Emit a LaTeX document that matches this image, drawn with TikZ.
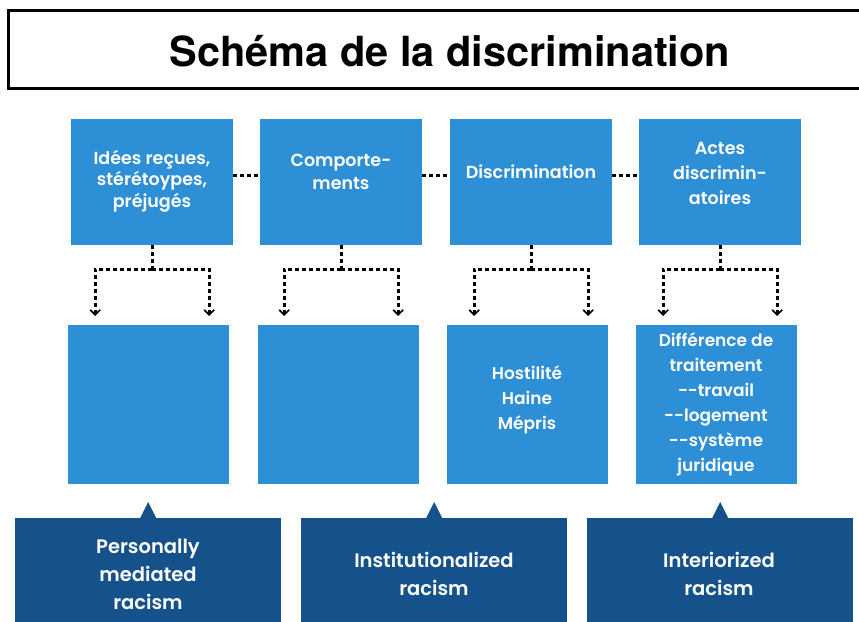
\documentclass[tikz,border=0pt]{standalone}
\usepackage{fontspec}
\usetikzlibrary{arrows.meta,positioning}
\newfontfamily\titlefont{TeX Gyre Heros}
\newfontfamily\boxfont{Poppins SemiBold}
\definecolor{boxblue}{RGB}{45,143,213}
\definecolor{darkblue}{RGB}{21,82,140}
\tikzset{
  topbox/.style={fill=boxblue, minimum width=162pt, minimum height=126pt, inner sep=0pt, anchor=north west},
  lowbox/.style={fill=boxblue, minimum width=161pt, minimum height=159pt, inner sep=0pt, anchor=north west},
  racebox/.style={fill=darkblue, minimum width=266pt, minimum height=130pt, inner sep=0pt, anchor=north west},
  boxtext/.style={text=white, align=center, inner sep=0pt, font=\boxfont\fontsize{17}{25}\selectfont},
  racetext/.style={text=white, align=center, inner sep=0pt, font=\boxfont\fontsize{19.5}{28}\selectfont},
  dotline/.style={black, line width=2.8pt, dash pattern=on 4pt off 3pt},
  chevron/.style={-{Straight Barb[length=5pt,width=10pt,line width=1.7pt]}}
}
\begin{document}
\begin{tikzpicture}[x=1pt,y=-1pt]
    \useasboundingbox (0,0) rectangle (859,621);
    % title
    \draw[line width=3pt] (8,10) rectangle (880,88);
    \node (title) at (450,51) {\titlefont\bfseries\fontsize{41.5}{42}\selectfont Schéma de la discrimination};
    % top row
    \node[topbox] (t1) at (71,119) {};
    \node[topbox] (t2) at (260,119) {};
    \node[topbox] (t3) at (450,119) {};
    \node[topbox] (t4) at (639,119) {};
    \node[boxtext, font=\boxfont\fontsize{17.5}{21.5}\selectfont] (l1) at (152,181) {Idées reçues,\\stérétoypes,\\préjugés};
    \node[boxtext, font=\boxfont\fontsize{17.5}{23}\selectfont] (l2) at (341,172) {Comporte-\\ments};
    \node[boxtext, font=\boxfont\fontsize{17.5}{25}\selectfont] (l3) at (531,172) {Discrimination};
    \node[boxtext, font=\boxfont\fontsize{17.5}{25}\selectfont] (l4) at (720,173) {Actes\\discrimin-\\atoires};
    % second row
    \node[lowbox] (b1) at (68,325) {};
    \node[lowbox] (b2) at (258,325) {};
    \node[lowbox] (b3) at (447,325) {};
    \node[lowbox] (b4) at (636,325) {};
    \node[boxtext] (m3) at (527,400) {Hostilité\\Haine\\Mépris};
    \node[boxtext] (m4) at (716,404) {Différence de\\traitement\\-{}-travail\\-{}-logement\\-{}-système\\juridique};
    % racism boxes
    \node[racebox] (d1) at (15,518) {};
    \node[racebox] (d2) at (301,518) {};
    \node[racebox] (d3) at (587,518) {};
    \foreach \i in {1,2,3}
        \fill[darkblue] ([xshift=-8pt]d\i.north) -- ([yshift=16pt]d\i.north) -- ([xshift=8pt]d\i.north) -- cycle;
    \node[racetext] (r1) at (148,574) {Personally\\mediated\\racism};
    \node[racetext] (r2) at (434,574) {Institutionalized\\racism};
    \node[racetext] (r3) at (719,574) {Interiorized\\racism};
    % dotted links
    \foreach \a/\b in {t1/t2,t2/t3,t3/t4}
        \draw[dotline] ([yshift=7pt]\a.east) -- ([yshift=7pt]\b.west);
    \foreach \i in {1,...,4}{
        \coordinate (j\i) at ([yshift=-24pt]t\i.south);
        \coordinate (jl\i) at ([xshift=-57pt]j\i);
        \coordinate (jr\i) at ([xshift=57pt]j\i);
        \draw[dotline] (t\i.south) -- (j\i);
        \draw[dotline,chevron,shorten >=9pt] (j\i) -| (jl\i |- b\i.north);
        \draw[dotline,chevron,shorten >=9pt] (j\i) -| (jr\i |- b\i.north);
    }
\end{tikzpicture}
\end{document}
